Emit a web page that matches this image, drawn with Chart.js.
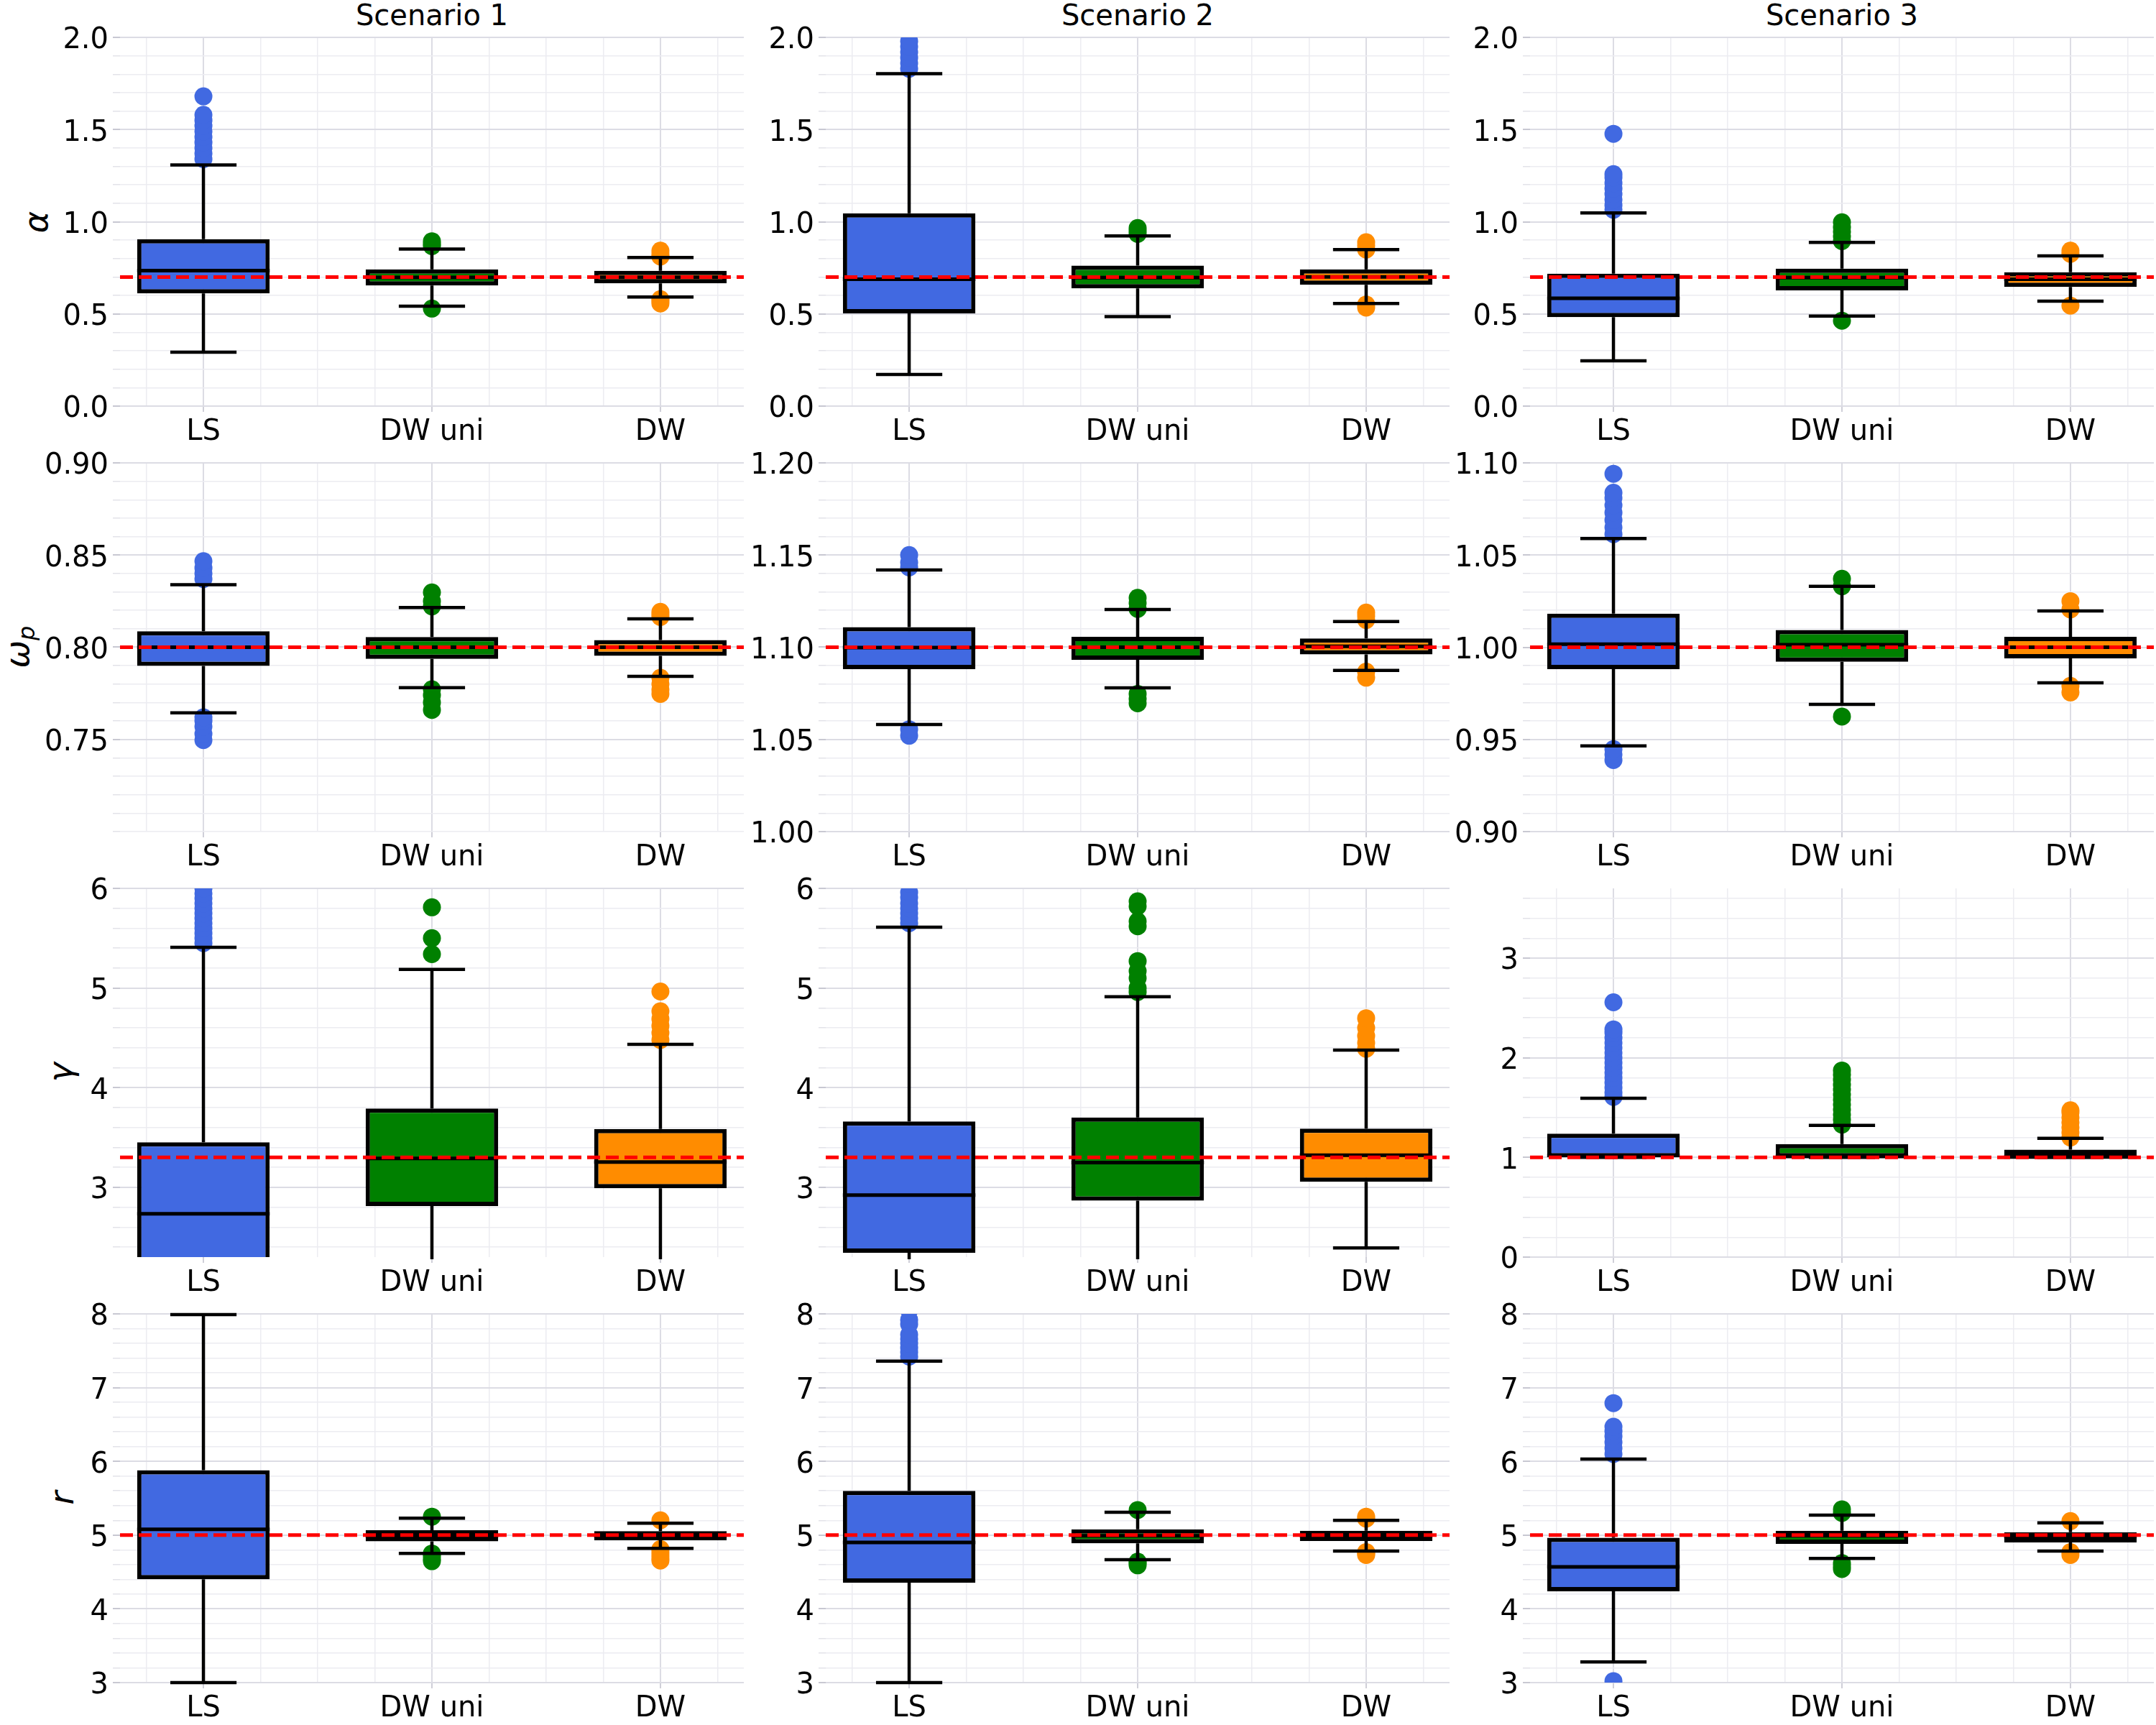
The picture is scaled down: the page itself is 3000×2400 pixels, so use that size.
<!DOCTYPE html>
<html>
<head>
<meta charset="utf-8">
<script src="https://cdn.jsdelivr.net/npm/chart.js@4.4.1/dist/chart.umd.min.js"></script>
<style>
  body { margin: 0; background: #fff; }
  #page { position: relative; width: 3000px; height: 2400px; overflow: hidden; font-family: "DejaVu Sans"; color: #000; }
  #page canvas { position: absolute; }
  .title { position: absolute; top: 1px; width: 868px; text-align: center; font-size: 40px; line-height: 40px; }
  .ylab { position: absolute; font-size: 46px; line-height: 46px; font-style: italic; white-space: nowrap;
          transform: translate(-50%, -50%) rotate(-90deg); }
  .ylab sub { font-size: 32px; vertical-align: -8px; }
</style>
</head>
<body>
<div id="page">
  <div class="title" style="left:167px">Scenario 1</div>
  <div class="title" style="left:1149px">Scenario 2</div>
  <div class="title" style="left:2129px">Scenario 3</div>
  <div class="ylab" style="left:50px;top:309px">α</div>
  <div class="ylab" style="left:30px;top:900px">ω<sub>p</sub></div>
  <div class="ylab" style="left:84px;top:1492px">γ</div>
  <div class="ylab" style="left:86px;top:2084px">r</div>
</div>
<script>
// categories
const methods = ['LS', 'DW uni', 'DW'];
const scenarios = ['Scenario 1', 'Scenario 2', 'Scenario 3'];

// y ranges and labelled ticks, one row per parameter, one entry per scenario
const yMin = [[0, 0, 0], [0.7, 1.0, 0.9], [2.3, 2.3, 0], [3, 3, 3]];
const yMax = [[2, 2, 2], [0.9, 1.2, 1.1], [6, 6, 3.7], [8, 8, 8]];
const yMinorStep = [0.1, 0.01, 0.2, 0.2];
const yDecimals = [1, 2, 0, 0];
const yTicks = [
  [[0, 0.5, 1, 1.5, 2], [0, 0.5, 1, 1.5, 2], [0, 0.5, 1, 1.5, 2]],
  [[0.75, 0.8, 0.85, 0.9], [1, 1.05, 1.1, 1.15, 1.2], [0.9, 0.95, 1, 1.05, 1.1]],
  [[3, 4, 5, 6], [3, 4, 5, 6], [0, 1, 2, 3]],
  [[3, 4, 5, 6, 7, 8], [3, 4, 5, 6, 7, 8], [3, 4, 5, 6, 7, 8]]
];
// true parameter values (red dashed line)
const truth = [[0.7, 0.7, 0.7], [0.8, 1.1, 1.0], [3.3, 3.3, 1.0], [5, 5, 5]];

// alpha  [scenario][method]
const alphaQ1 = [[0.611, 0.654, 0.666], [0.503, 0.638, 0.658], [0.482, 0.628, 0.646]];
const alphaMed = [[0.735, 0.698, 0.699], [0.688, 0.697, 0.701], [0.585, 0.697, 0.688]];
const alphaQ3 = [[0.905, 0.742, 0.734], [1.046, 0.762, 0.742], [0.718, 0.746, 0.726]];
const alphaLo = [[0.292, 0.542, 0.592], [0.172, 0.485, 0.557], [0.246, 0.488, 0.569]];
const alphaHi = [[1.308, 0.852, 0.806], [1.803, 0.923, 0.849], [1.048, 0.888, 0.815]];
const alphaOut = [
  [[1.34, 1.37, 1.40, 1.43, 1.46, 1.49, 1.52, 1.55, 1.58, 1.68], [0.868, 0.88, 0.894, 0.529], [0.811, 0.825, 0.843, 0.557, 0.57, 0.58]],
  [[1.83, 1.86, 1.89, 1.92, 1.95, 1.98, 2.05], [0.934, 0.95, 0.966], [0.849, 0.87, 0.889, 0.534, 0.551]],
  [[1.065, 1.09, 1.12, 1.15, 1.18, 1.21, 1.24, 1.258, 1.477], [0.895, 0.92, 0.945, 0.97, 0.997, 0.463], [0.826, 0.843, 0.545]]
];

// omega_p
const omegaQ1 = [[0.7899, 0.7937, 0.7953], [1.0881, 1.0932, 1.0961], [0.9881, 0.9921, 0.994]];
const omegaMed = [[0.8, 0.8, 0.8], [1.0998, 1.1, 1.1005], [1.0017, 1.0014, 1.0]];
const omegaQ3 = [[0.8087, 0.8056, 0.8039], [1.1109, 1.1057, 1.1048], [1.0182, 1.0094, 1.0057]];
const omegaLo = [[0.7644, 0.7781, 0.7842], [1.0581, 1.078, 1.0874], [0.9465, 0.969, 0.9807]];
const omegaHi = [[0.8339, 0.8215, 0.8154], [1.1419, 1.1205, 1.1139], [1.059, 1.033, 1.0197]];
const omegaOut = [
  [[0.837, 0.840, 0.843, 0.8467, 0.7496, 0.753, 0.757, 0.760, 0.762], [0.8222, 0.825, 0.8297, 0.766, 0.770, 0.774, 0.7772], [0.8164, 0.8178, 0.8192, 0.7747, 0.777, 0.780, 0.7834]],
  [[1.1433, 1.146, 1.150, 1.052, 1.0555], [1.1208, 1.124, 1.1268, 1.0696, 1.072, 1.0747], [1.1148, 1.117, 1.1188, 1.0835, 1.0867]],
  [[1.0613, 1.065, 1.069, 1.073, 1.077, 1.081, 1.0838, 1.0941, 0.9388, 0.9418, 0.9447], [1.0331, 1.0371, 0.9624], [1.0205, 1.025, 0.9755, 0.979]]
];

// gamma
const gammaQ1 = [[2.1, 2.812, 2.99], [2.343, 2.867, 3.055], [1.0, 1.0, 1.0]];
const gammaMed = [[2.735, 3.29, 3.254], [2.922, 3.248, 3.322], [1.02, 1.01, 1.005]];
const gammaQ3 = [[3.452, 3.792, 3.585], [3.662, 3.701, 3.59], [1.239, 1.134, 1.079]];
const gammaLo = [[1.0, 1.5, 1.8], [1.0, 1.5, 2.392], [1.0, 1.0, 1.0]];
const gammaHi = [[5.409, 5.186, 4.435], [5.61, 4.912, 4.377], [1.594, 1.321, 1.192]];
const gammaOut = [
  [[5.45, 5.5, 5.55, 5.6, 5.65, 5.7, 5.75, 5.8, 5.85, 5.9, 5.95, 6.0, 6.1], [5.34, 5.5, 5.81], [4.479, 4.55, 4.62, 4.69, 4.766, 4.965]],
  [[5.65, 5.7, 5.75, 5.8, 5.85, 5.91, 5.96, 6.05], [4.96, 5.0, 5.1, 5.17, 5.27, 5.62, 5.67, 5.82, 5.87], [4.39, 4.45, 4.52, 4.6, 4.697]],
  [[1.607, 1.65, 1.7, 1.75, 1.8, 1.85, 1.9, 1.95, 2.0, 2.05, 2.1, 2.15, 2.2, 2.25, 2.285, 2.557],
   [1.33, 1.38, 1.43, 1.48, 1.53, 1.58, 1.63, 1.68, 1.73, 1.78, 1.83, 1.872],
   [1.2, 1.25, 1.3, 1.35, 1.4, 1.45, 1.473]]
];

// r
const rQ1 = [[4.40, 4.916, 4.93], [4.354, 4.889, 4.92], [4.237, 4.882, 4.90]];
const rMed = [[5.079, 4.99, 4.99], [4.90, 4.99, 4.99], [4.57, 4.99, 4.98]];
const rQ3 = [[5.879, 5.067, 5.053], [5.599, 5.079, 5.06], [4.965, 5.06, 5.04]];
const rLo = [[3.0, 4.753, 4.82], [3.0, 4.666, 4.783], [3.281, 4.684, 4.783]];
const rHi = [[7.99, 5.23, 5.162], [7.359, 5.31, 5.20], [6.031, 5.272, 5.166]];
const rOut = [
  [[], [5.25, 4.646, 4.68, 4.72, 4.75], [5.2, 4.655, 4.69, 4.73, 4.77, 4.81]],
  [[7.42, 7.48, 7.54, 7.6, 7.66, 7.72, 7.86, 7.92, 8.05], [5.34, 4.59, 4.62, 4.64], [5.223, 5.25, 4.73, 4.75, 4.77]],
  [[6.1, 6.18, 6.26, 6.34, 6.41, 6.47, 6.79, 3.02], [5.30, 5.35, 4.54, 4.58, 4.62], [5.19, 4.73, 4.77]]
];

const stats = [
  { q1: alphaQ1, med: alphaMed, q3: alphaQ3, lo: alphaLo, hi: alphaHi, out: alphaOut },
  { q1: omegaQ1, med: omegaMed, q3: omegaQ3, lo: omegaLo, hi: omegaHi, out: omegaOut },
  { q1: gammaQ1, med: gammaMed, q3: gammaQ3, lo: gammaLo, hi: gammaHi, out: gammaOut },
  { q1: rQ1, med: rMed, q3: rQ3, lo: rLo, hi: rHi, out: rOut }
];

// look
const boxColors = ['#4169e1', '#008000', '#ff8c00'];
const GRID_MAJOR = '#dcdce4';
const GRID_MINOR = '#ececf1';
const X_MIN = 0.635, X_MAX = 3.365;
const BOX_HALF = 0.29, CAP_HALF = 0.145;
const FONT = { family: 'DejaVu Sans', size: 40 };

// layout of the 4x3 grid (chart areas, in page pixels)
const colLeft = [167, 1149, 2129];
const rowTop = [52, 644, 1236, 1828];
const axW = 868, axH = 513;
const padL = 160, padT = 30, padB = 70, padR = 4;

const near = (a, b) => Math.abs(a - b) < 1e-7;

function makeChart(cv, p, s) {
  const st = stats[p];
  const q1 = st.q1[s], med = st.med[s], q3 = st.q3[s], lo = st.lo[s], hi = st.hi[s], out = st.out[s];
  const major = yTicks[p][s];
  const isMajor = v => major.some(m => near(m, v));

  const boxes = [], medians = [], whiskers = [], points = [], pointColors = [];
  methods.forEach((m, i) => {
    const x = i + 1;
    boxes.push({ x: x, y: [q1[i], q3[i]] });
    medians.push({ x: x - BOX_HALF, y: med[i] }, { x: x + BOX_HALF, y: med[i] }, { x: x, y: null });
    whiskers.push(
      { x: x, y: q1[i] }, { x: x, y: lo[i] }, { x: x, y: null },
      { x: x, y: q3[i] }, { x: x, y: hi[i] }, { x: x, y: null },
      { x: x - CAP_HALF, y: lo[i] }, { x: x + CAP_HALF, y: lo[i] }, { x: x, y: null },
      { x: x - CAP_HALF, y: hi[i] }, { x: x + CAP_HALF, y: hi[i] }, { x: x, y: null }
    );
    out[i].forEach(v => { points.push({ x: x, y: v }); pointColors.push(boxColors[i]); });
  });

  // minor tick positions: multiples of the minor step inside the range
  const minorY = [];
  const step = yMinorStep[p];
  const k0 = Math.ceil(yMin[p][s] / step - 1e-6), k1 = Math.floor(yMax[p][s] / step + 1e-6);
  for (let k = k0; k <= k1; k++) minorY.push(Math.round(k * step * 1e6) / 1e6);
  const quarterX = [];
  for (let k = 3; k <= 13; k++) if (k % 4 !== 0) quarterX.push(k / 4);

  return new Chart(cv, {
    type: 'bar',
    data: {
      datasets: [
        {
          type: 'line', data: [{ x: X_MIN, y: truth[p][s] }, { x: X_MAX, y: truth[p][s] }],
          borderColor: '#ff0000', borderWidth: 5, borderDash: [18, 8], pointRadius: 0, clip: 0
        },
        {
          type: 'line', data: medians, borderColor: '#000', borderWidth: 5,
          pointRadius: 0, spanGaps: false, clip: 0
        },
        {
          type: 'line', data: whiskers, borderColor: '#000', borderWidth: 4.5,
          pointRadius: 0, spanGaps: false, clip: 3
        },
        {
          type: 'bar', data: boxes, backgroundColor: boxColors, borderColor: '#000',
          borderWidth: 6, borderSkipped: false, barPercentage: 0.58, categoryPercentage: 1, clip: 0
        },
        {
          type: 'line', data: points, showLine: false, pointRadius: 12.5, pointHoverRadius: 12.5,
          pointBackgroundColor: pointColors, pointBorderWidth: 0, clip: 0
        }
      ]
    },
    options: {
      responsive: false,
      animation: false,
      devicePixelRatio: 1,
      layout: { autoPadding: false, padding: { left: 0, top: padT, right: padR, bottom: 0 } },
      plugins: { legend: { display: false }, tooltip: { enabled: false } },
      scales: {
        x: {
          type: 'linear', position: 'bottom', min: X_MIN, max: X_MAX, offset: false,
          afterBuildTicks: sc => { sc.ticks = methods.map((m, i) => ({ value: i + 1 })); },
          afterFit: sc => { sc.height = padB; },
          ticks: {
            autoSkip: false, maxRotation: 0, padding: 5, color: '#000', font: FONT,
            callback: v => methods[Math.round(v) - 1]
          },
          grid: { offset: false, color: GRID_MAJOR, lineWidth: 2, tickLength: 8, tickColor: '#cfcfd8' },
          border: { display: false }
        },
        x2: {
          type: 'linear', position: 'bottom', min: X_MIN, max: X_MAX, offset: false,
          afterBuildTicks: sc => { sc.ticks = quarterX.map(v => ({ value: v })); },
          afterFit: sc => { sc.height = 0; },
          ticks: { display: false },
          grid: { offset: false, color: GRID_MINOR, lineWidth: 1.5, tickLength: 5, tickColor: '#dcdce4' },
          border: { display: false }
        },
        y: {
          type: 'linear', min: yMin[p][s], max: yMax[p][s],
          afterBuildTicks: sc => { sc.ticks = minorY.map(v => ({ value: v })); },
          afterFit: sc => { sc.width = padL; },
          ticks: {
            autoSkip: false, padding: 6, labelOffset: 5, color: '#000', font: FONT,
            callback: v => isMajor(v) ? v.toFixed(yDecimals[p]) : ''
          },
          grid: {
            color: ctx => isMajor(ctx.tick.value) ? GRID_MAJOR : GRID_MINOR,
            lineWidth: ctx => isMajor(ctx.tick.value) ? 2 : 1.5,
            tickLength: 10,
            tickColor: ctx => isMajor(ctx.tick.value) ? '#c8c8d2' : '#e2e2e8'
          },
          border: { display: false }
        }
      }
    }
  });
}

const page = document.getElementById('page');
stats.forEach((st, p) => {
  scenarios.forEach((name, s) => {
    const cv = document.createElement('canvas');
    cv.width = padL + axW + padR;
    cv.height = padT + axH + padB;
    cv.style.width = cv.width + 'px';
    cv.style.height = cv.height + 'px';
    cv.style.left = (colLeft[s] - padL) + 'px';
    cv.style.top = (rowTop[p] - padT) + 'px';
    page.appendChild(cv);
    makeChart(cv, p, s);
  });
});
</script>
</body>
</html>
